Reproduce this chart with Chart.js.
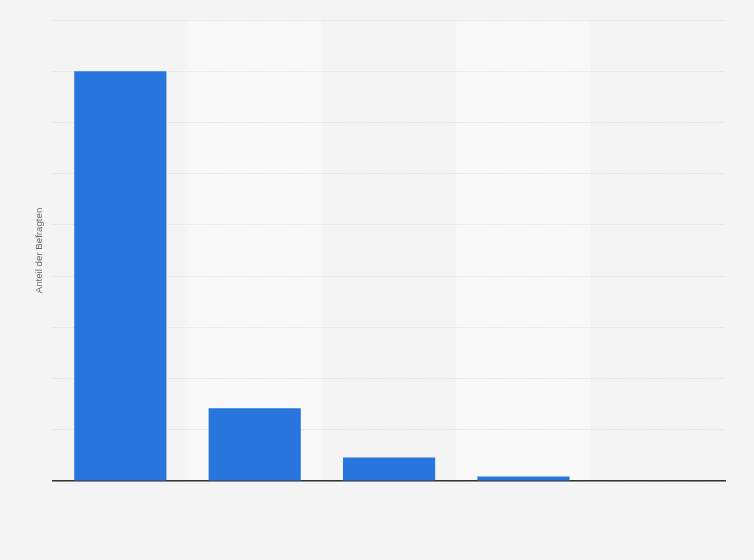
<!DOCTYPE html>
<html lang="de">
<head>
<meta charset="utf-8">
<title>Anteil der Befragten</title>
<script src="https://cdn.jsdelivr.net/npm/chart.js@4/dist/chart.umd.min.js"></script>
<style>
    html, body { margin: 0; padding: 0; background: #f4f4f4; }
    #wrap { width: 754px; height: 560px; }
</style>
</head>
<body>
<div id="wrap"><canvas id="chart" width="754" height="560"></canvas></div>
<script>
// Werte (in %)
const kategorien = ['Kategorie 1', 'Kategorie 2', 'Kategorie 3', 'Kategorie 4', 'Kategorie 5'];
const anteile = [80, 14.2, 4.6, 0.9, 0];
const yMax = 90;
const yStep = 10;

// helle Streifen hinter jeder zweiten Kategorie (vor Gitter und Achsen gemalt)
const streifen = {
    id: 'streifen',
    beforeDraw(chart) {
        const { ctx, chartArea, scales: { x } } = chart;
        const breite = (chartArea.right - chartArea.left) / kategorien.length;
        ctx.save();
        ctx.fillStyle = '#f8f8f8';
        kategorien.forEach((k, i) => {
            if (i % 2 === 1) {
                const mitte = x.getPixelForValue(i);
                ctx.fillRect(mitte - breite / 2, chartArea.top, breite, chartArea.bottom - chartArea.top);
            }
        });
        ctx.restore();
    }
};

const data = {
    labels: kategorien,
    datasets: [{
        data: anteile,
        backgroundColor: '#2876dd',
        categoryPercentage: 1,
        barPercentage: 0.686
    }]
};

const config = {
    type: 'bar',
    data,
    options: {
        responsive: false,
        animation: false,
        layout: {
            padding: { left: 28.5, right: 29, top: 20, bottom: 79 }
        },
        plugins: {
            legend: { display: false },
            tooltip: { enabled: false }
        },
        scales: {
            x: {
                ticks: { display: false },
                grid: { display: false, drawTicks: false },
                border: { display: true, color: '#333333', width: 1.5 }
            },
            y: {
                min: 0,
                max: yMax,
                ticks: { display: false, stepSize: yStep },
                grid: {
                    color: '#d4d4d4',
                    lineWidth: 1,
                    drawTicks: false
                },
                border: { display: false, dash: [1, 1.5] },
                title: {
                    display: true,
                    text: 'Anteil der Befragten',
                    color: '#666666',
                    font: { family: 'Liberation Sans', size: 9.7 },
                    padding: { top: 5, bottom: 8 }
                }
            }
        }
    },
    plugins: [streifen]
};

const ctx = document.querySelector('#chart').getContext('2d');
new Chart(ctx, config);
</script>
</body>
</html>
